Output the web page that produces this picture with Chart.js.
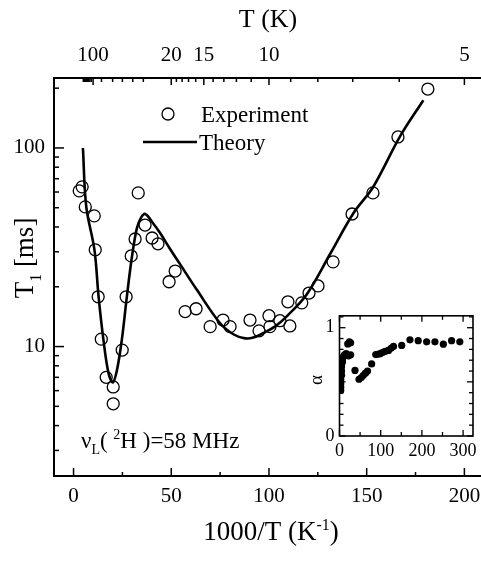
<!DOCTYPE html>
<html>
<head>
<meta charset="utf-8">
<script src="https://cdn.jsdelivr.net/npm/chart.js@4.4.1/dist/chart.umd.min.js"></script>
<style>
  html, body { margin: 0; padding: 0; background: #fff; overflow: hidden; }
  #main { position: absolute; left: 0; top: 0; }
  #inset { position: absolute; left: 300px; top: 300px; }
</style>
</head>
<body>
<canvas id="main" width="481" height="561"></canvas>
<canvas id="inset" width="181" height="175"></canvas>
<script>
'use strict';

// experiment points, 1000/T and T1 (ms)
var expX = [2.9, 4.4, 6.0, 10.6, 11.1, 12.6, 14.2, 16.7, 20.3, 20.3, 24.9, 26.9, 29.5, 31.5, 33.1,
  36.6, 40.2, 43.2, 48.9, 52.0, 57.1, 62.7, 69.9, 76.5, 80.1, 90.3, 94.9, 100.0, 100.5, 105.6,
  110.7, 109.7, 116.8, 120.5, 125.1, 132.8, 142.5, 153.2, 166.0, 181.3];
var expY = [60.8, 63.7, 50.5, 45.5, 30.7, 17.8, 10.9, 7.0, 6.26, 5.15, 9.6, 17.8, 28.6, 34.8, 59.4,
  40.9, 35.2, 32.9, 21.2, 24.0, 15.0, 15.5, 12.6, 13.6, 12.6, 13.6, 12.0, 14.3, 12.6, 13.5,
  12.7, 16.8, 16.6, 18.6, 20.2, 26.7, 46.5, 59.4, 113.6, 198];

// theory curve
var theoryX = [4.8, 6.5, 10.7, 12.8, 15.3, 17.9, 20.1, 22.2, 24.7, 27.3, 29.9, 32.4, 34.5, 36.7, 40.2,
  44.3, 49.4, 54.5, 63.1, 75, 82, 87.8, 92, 97.1, 103, 109.1, 119.3, 131.5, 143.2, 153.4, 167, 179];
var theoryY = [100, 50.7, 30.7, 17.9, 10.8, 7.35, 6.6, 7.6, 10.8, 17.9, 28.4, 39.4, 44.5, 46.5, 42.4,
  37.3, 31.0, 26.0, 19.3, 13.1, 11.5, 11.0, 11.1, 11.7, 12.6, 14.2, 18.3, 29.5, 46.9, 63.8, 114, 174];

// inset: alpha
var insetX = [3, 3, 3, 3, 5, 5, 5, 7, 7, 9, 12, 16, 22, 27, 20, 24, 27,
  37.6, 47.3, 53, 58, 63, 68, 78, 88, 93, 98.5, 104, 109, 114, 119, 125, 131,
  151, 171, 191, 211.5, 231.6, 252, 272, 292];
var insetAlpha = [0.42, 0.45, 0.48, 0.52, 0.56, 0.60, 0.64, 0.68, 0.70, 0.73, 0.75, 0.76, 0.74, 0.75, 0.85, 0.87, 0.86,
  0.606, 0.524, 0.54, 0.56, 0.58, 0.60, 0.666, 0.752, 0.755, 0.76, 0.77, 0.78, 0.785, 0.79, 0.81, 0.827,
  0.836, 0.888, 0.88, 0.87, 0.87, 0.848, 0.88, 0.87];

// tick values
var bottomTicks = [0, 50, 100, 150, 200];
var bottomMinor = [25, 75, 125, 175];
var topTicksT = [100, 20, 15, 10, 5];
var topMinorT = [200, 180, 160, 150, 140, 130, 120, 110, 70, 50, 40, 33, 28, 19, 18, 17, 16, 14, 13, 12, 11, 9, 8, 7, 6];
var yTicks = [10, 100];
var yMinor = [3, 4, 5, 6, 7, 8, 9, 20, 30, 40, 50, 60, 70, 80, 90, 200];
var insetXTicks = [0, 100, 200, 300];
var insetYTicks = [0, 1];

var SERIF = 'Liberation Serif';

function pairs(xs, ys) {
  return xs.map(function (x, i) { return { x: x, y: ys[i] }; });
}

function line(ctx, x1, y1, x2, y2) {
  ctx.beginPath(); ctx.moveTo(x1, y1); ctx.lineTo(x2, y2); ctx.stroke();
}

// keep horizontal scales from pushing the plot area inwards
function noSidePad(s) {
  s.paddingLeft = 0;
  s.paddingRight = 0;
}

// draw text made of parts, some raised or lowered
function richText(ctx, parts, x, y, size, align) {
  var total = 0;
  parts.forEach(function (p) {
    ctx.font = (p.sup || p.sub ? Math.round(size * 0.6) : size) + 'px "' + SERIF + '"';
    p.w = ctx.measureText(p.t).width;
    total += p.w;
  });
  var cx = align === 'center' ? x - total / 2 : x;
  parts.forEach(function (p) {
    ctx.font = (p.sup || p.sub ? Math.round(size * 0.6) : size) + 'px "' + SERIF + '"';
    var dy = p.sup ? -size * 0.38 : (p.sub ? size * 0.28 : 0);
    ctx.fillText(p.t, cx, y + dy);
    cx += p.w;
  });
}

var mainDecor = {
  id: 'mainDecor',
  afterDraw: function (chart) {
    var ctx = chart.ctx, a = chart.chartArea, sx = chart.scales.x, sy = chart.scales.y;
    ctx.save();
    ctx.strokeStyle = '#000';
    ctx.fillStyle = '#000';
    ctx.lineWidth = 2;
    line(ctx, a.left, a.top, a.left, a.bottom);
    line(ctx, a.left - 1, a.top, a.right, a.top);
    line(ctx, a.left - 1, a.bottom, a.right, a.bottom);

    ctx.lineWidth = 1.5;
    bottomTicks.forEach(function (v) { var x = sx.getPixelForValue(v); line(ctx, x, a.bottom, x, a.bottom - 8); });
    bottomMinor.forEach(function (v) { var x = sx.getPixelForValue(v); line(ctx, x, a.bottom, x, a.bottom - 4); });
    topTicksT.forEach(function (t) { var x = sx.getPixelForValue(1000 / t); line(ctx, x, a.top, x, a.top + 7); });
    topMinorT.forEach(function (t) { var x = sx.getPixelForValue(1000 / t); line(ctx, x, a.top, x, a.top + 4); });
    yTicks.forEach(function (v) { var y = sy.getPixelForValue(v); line(ctx, a.left, y, a.left + 10, y); });
    yMinor.forEach(function (v) { var y = sy.getPixelForValue(v); line(ctx, a.left, y, a.left + 5, y); });

    // titles
    ctx.textBaseline = 'alphabetic';
    ctx.textAlign = 'left';
    richText(ctx, [{ t: 'T (K)' }], 268, 27, 26, 'center');
    richText(ctx, [{ t: '1000/T (K' }, { t: '-1', sup: true }, { t: ')' }], 271, 540, 27, 'center');

    ctx.save();
    ctx.translate(33, 258);
    ctx.rotate(-Math.PI / 2);
    richText(ctx, [{ t: 'T' }, { t: '1', sub: true }, { t: ' [ms]' }], 0, 0, 27, 'center');
    ctx.restore();

    richText(ctx, [{ t: '\u03bd' }, { t: 'L', sub: true }, { t: '( ' }, { t: '2', sup: true },
      { t: 'H )=58 MHz' }], 81, 448, 23, 'left');

    // legend
    ctx.lineWidth = 1.3;
    ctx.beginPath(); ctx.arc(168, 114, 6, 0, Math.PI * 2); ctx.stroke();
    ctx.lineWidth = 2.6;
    line(ctx, 143, 142, 197, 142);
    ctx.font = '23px "' + SERIF + '"';
    ctx.fillText('Experiment', 201, 122);
    ctx.fillText('Theory', 199, 150);
    ctx.restore();
  }
};

var tickFont = { family: SERIF, size: 21 };

new Chart(document.getElementById('main').getContext('2d'), {
  type: 'scatter',
  data: {
    datasets: [{
      label: 'Experiment',
      data: pairs(expX, expY),
      showLine: false,
      pointRadius: 6,
      pointBorderWidth: 1.3,
      borderColor: '#000',
      backgroundColor: 'rgba(0,0,0,0)'
    }, {
      label: 'Theory',
      data: pairs(theoryX, theoryY),
      showLine: true,
      pointRadius: 0,
      borderColor: '#000',
      borderWidth: 2.6,
      tension: 0.35
    }]
  },
  options: {
    responsive: false,
    animation: false,
    layout: { padding: 0, autoPadding: false },
    plugins: { legend: { display: false }, tooltip: { enabled: false } },
    scales: {
      x: {
        type: 'linear', position: 'bottom', min: -10, max: 208.5,
        grid: { display: false, drawTicks: false }, border: { display: false },
        afterFit: function (s) { s.height = 85; noSidePad(s); },
        afterBuildTicks: function (s) { s.ticks = bottomTicks.map(function (v) { return { value: v }; }); },
        ticks: { font: tickFont, color: '#000', padding: 8, maxRotation: 0, autoSkip: false,
          callback: function (v) { return String(v); } }
      },
      x2: {
        type: 'linear', axis: 'x', position: 'top', min: -10, max: 208.5,
        grid: { display: false, drawTicks: false }, border: { display: false },
        afterFit: function (s) { s.height = 78; noSidePad(s); },
        afterBuildTicks: function (s) { s.ticks = topTicksT.map(function (t) { return { value: 1000 / t }; }); },
        ticks: { font: tickFont, color: '#000', padding: 10, maxRotation: 0, autoSkip: false,
          callback: function (v, i) { return String(topTicksT[i]); } }
      },
      y: {
        type: 'logarithmic', position: 'left', min: 2.23, max: 225,
        grid: { display: false, drawTicks: false }, border: { display: false },
        afterFit: function (s) { s.width = 54; },
        afterBuildTicks: function (s) { s.ticks = yTicks.map(function (v) { return { value: v }; }); },
        ticks: { font: tickFont, color: '#000', padding: 9, autoSkip: false,
          callback: function (v) { return String(v); } }
      }
    }
  },
  plugins: [mainDecor]
});

var insetDecor = {
  id: 'insetDecor',
  afterDraw: function (chart) {
    var ctx = chart.ctx, a = chart.chartArea, sx = chart.scales.x, sy = chart.scales.y;
    ctx.save();
    ctx.strokeStyle = '#000';
    ctx.fillStyle = '#000';
    ctx.lineWidth = 1.6;
    ctx.strokeRect(a.left, a.top, a.right - a.left, a.bottom - a.top);
    ctx.lineWidth = 1.3;
    for (var v = 0; v <= 320; v += 50) {
      var x = sx.getPixelForValue(v), len = v % 100 === 0 ? 6 : 4;
      line(ctx, x, a.bottom, x, a.bottom - len);
      line(ctx, x, a.top, x, a.top + len);
    }
    for (var k = 0; k <= 11; k++) {
      var y = sy.getPixelForValue(k / 10), ln = k % 5 === 0 ? 6 : 4;
      line(ctx, a.left, y, a.left + ln, y);
      line(ctx, a.right, y, a.right - ln, y);
    }
    ctx.save();
    ctx.translate(22, 80);
    ctx.rotate(-Math.PI / 2);
    ctx.textAlign = 'center';
    ctx.font = '19px "' + SERIF + '"';
    ctx.fillText('\u03b1', 0, 0);
    ctx.restore();
    ctx.restore();
  }
};

var insetFont = { family: SERIF, size: 18 };

new Chart(document.getElementById('inset').getContext('2d'), {
  type: 'scatter',
  data: {
    datasets: [{
      label: 'alpha',
      data: pairs(insetX, insetAlpha),
      pointRadius: 3.6,
      borderWidth: 0,
      backgroundColor: '#000'
    }]
  },
  options: {
    responsive: false,
    animation: false,
    layout: { padding: { top: 14, right: 8, left: 0, bottom: 0 }, autoPadding: false },
    plugins: { legend: { display: false }, tooltip: { enabled: false } },
    scales: {
      x: {
        type: 'linear', min: 0, max: 324,
        grid: { display: false, drawTicks: false }, border: { display: false },
        afterFit: function (s) { s.height = 39; noSidePad(s); },
        afterBuildTicks: function (s) { s.ticks = insetXTicks.map(function (v) { return { value: v }; }); },
        ticks: { font: insetFont, color: '#000', padding: 4, maxRotation: 0, autoSkip: false,
          callback: function (v) { return String(v); } }
      },
      y: {
        type: 'linear', min: 0, max: 1.11,
        grid: { display: false, drawTicks: false }, border: { display: false },
        afterFit: function (s) { s.width = 39.5; },
        afterBuildTicks: function (s) { s.ticks = insetYTicks.map(function (v) { return { value: v }; }); },
        ticks: { font: insetFont, color: '#000', padding: 5, autoSkip: false,
          callback: function (v) { return String(v); } }
      }
    }
  },
  plugins: [insetDecor]
});
</script>
</body>
</html>
